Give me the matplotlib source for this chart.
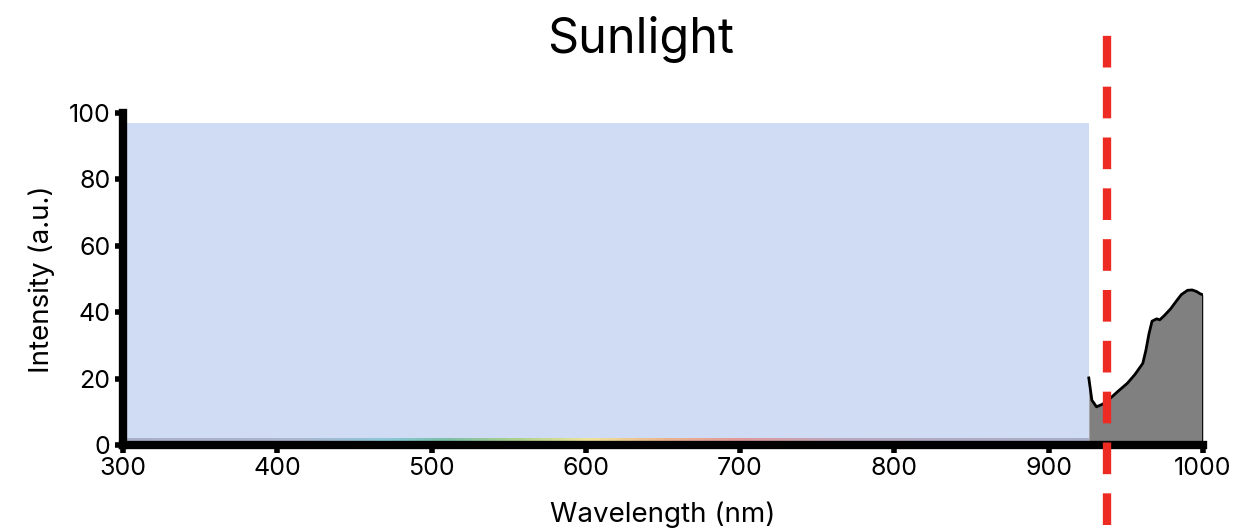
import numpy as np
import matplotlib
matplotlib.use("Agg")
from matplotlib import pyplot as plt
from matplotlib.colors import LinearSegmentedColormap

plt.rcParams['font.family'] = ['Inter', 'DejaVu Sans']

# data
wl = [926, 928, 931, 935, 940, 945, 951, 956, 961, 963, 965, 967, 970, 972, 975, 979, 983, 986, 990, 993, 996, 998, 1000]
intensity = [20.2, 13.5, 11.5, 12.3, 14.1, 16.2, 18.6, 21.3, 24.6, 28.5, 33.5, 37.3, 38.0, 37.7, 39.0, 41.0, 43.5, 45.3, 46.6, 46.7, 46.2, 45.6, 45.2]
blocked_band = [302.5, 926]
blocked_level = [2, 97]
cutoff = 938
xticks = [300, 400, 500, 600, 700, 800, 900, 1000]
yticks = [0, 20, 40, 60, 80, 100]

fig = plt.figure(figsize=(12.51, 5.29), dpi=100)
ax = fig.add_axes([0.0983, 0.1588, 0.8633, 0.6276])

# faint visible spectrum along the bottom
spec = LinearSegmentedColormap.from_list('spec', [
    (0.0, '#aab0c8'), (0.18, '#aab6d0'), (0.27, '#8cc8d8'), (0.33, '#7cc0a8'),
    (0.40, '#a8d090'), (0.48, '#f0e39a'), (0.56, '#eab48f'), (0.64, '#e09a9a'),
    (0.75, '#b8a8c0'), (1.0, '#a8aec8')])
grad = np.linspace(0, 1, 256).reshape(1, -1)
ax.imshow(grad, cmap=spec, extent=[blocked_band[0], blocked_band[1], 0, 2.3],
          aspect='auto', zorder=1)

ax.fill_between(blocked_band, blocked_level[0], blocked_level[1], color='#d0dcf4', lw=0, zorder=2)

ax.fill_between(wl, 0, intensity, color='#808080', lw=0, zorder=2)
ax.plot(wl, intensity, color='black', lw=2, zorder=3)
ax.plot([wl[-1], wl[-1]], [0, intensity[-1]], color='black', lw=2, zorder=3)

ax.plot([cutoff, cutoff], [-24, 123.5], color='#ee2b22', lw=6,
        dashes=(3.8, 2.3), clip_on=False, zorder=5)

ax.set_xlim(300, 1000)
ax.set_ylim(0, 100)
ax.set_xticks(xticks)
ax.set_yticks(yticks)
ax.tick_params(width=4, length=6, labelsize=18, color='black', pad=3)
for s in ['left', 'bottom']:
    ax.spines[s].set_linewidth(6)
for s in ['top', 'right']:
    ax.spines[s].set_visible(False)

ax.set_xlabel('Wavelength (nm)', fontsize=20, labelpad=15)
ax.set_ylabel('Intensity (a.u.)', fontsize=20, labelpad=10)
fig.text(0.512, 0.925, 'Sunlight', fontsize=35, ha='center', va='center')

fig.savefig('out.png', dpi=100)
